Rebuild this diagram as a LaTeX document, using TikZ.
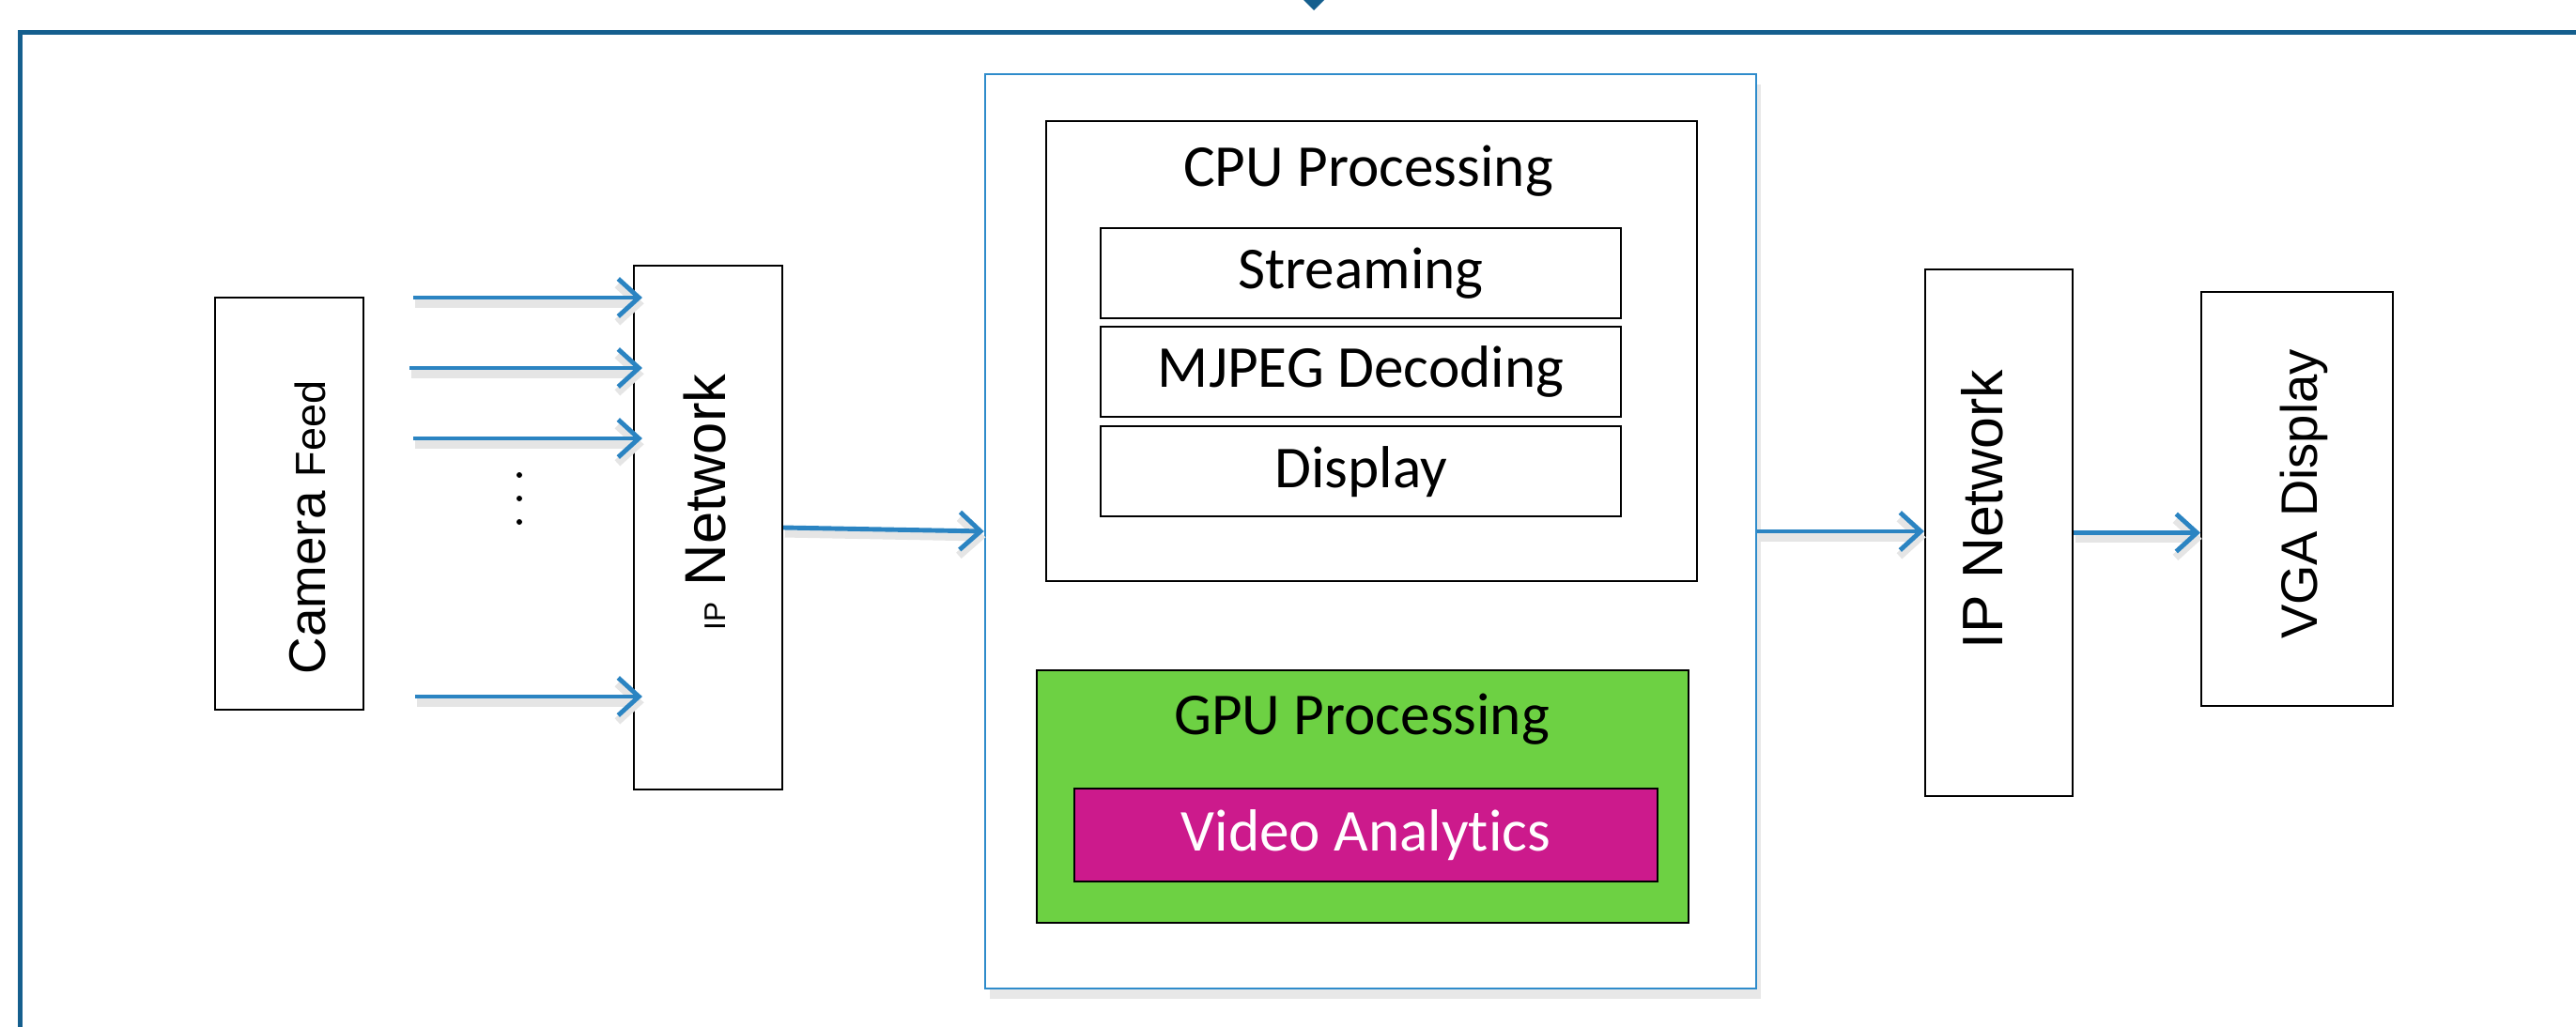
\documentclass[tikz,border=0pt]{standalone}
\usepackage{fontspec}
\setmainfont{Carlito}[Ligatures=NoCommon]
\newfontfamily\arialfont{Liberation Sans}
\usepackage{tikz}
\usetikzlibrary{arrows.meta, positioning, shadows}
\definecolor{frameblue}{HTML}{155F8E}
\definecolor{flowblue}{HTML}{2B84C2}
\definecolor{hostblue}{HTML}{2F8CCB}
\definecolor{gpugreen}{HTML}{6DD143}
\definecolor{vamagenta}{HTML}{CC1A8C}

\begin{document}
\begin{tikzpicture}[
    box/.style={draw, line width=0.6pt, inner sep=0pt},
    side/.style={rotate=90, inner sep=0pt, font=\arialfont},
    big/.style={font=\fontsize{18}{21}\selectfont},
    task/.style={box, big, minimum width=5.54cm, minimum height=0.96cm},
    flow/.style={draw=flowblue, line width=1.4pt, -{Straight Barb[length=2.2mm,width=4mm]},
        preaction={draw=black!10, line width=2.4pt, transform canvas={shift={(0.5pt,-1.8pt)}}}},
  ]
  \useasboundingbox (0,0) rectangle (27.43,10.93);
  \clip (0,0) rectangle (27.43,10.93);

  % frame, only top and left edge are on the page
  \draw[frameblue, line width=1.4pt] (0.215,-1) rectangle (28,10.585);
  \fill[frameblue] (13.88,10.93) -- (13.99,10.82) -- (14.10,10.93) -- cycle;

  % host with cpu and gpu parts
  \node[box, draw=hostblue, line width=0.7pt, fill=white,
    drop shadow={opacity=0.18, shadow xshift=1.5pt, shadow yshift=-3pt},
    minimum width=8.21cm, minimum height=9.74cm] (host) at (14.595,5.27) {};
  \node[box, minimum width=6.93cm, minimum height=4.90cm] (cpu) at (14.605,7.19) {};
  \node[big] (cputxt) at (14.57,9.11) {CPU Processing};
  \node[task] (stream) at (14.49,8.02) {Streaming};
  \node[task, below=0.07cm of stream] (mjpeg) {MJPEG Decoding};
  \node[task, below=0.08cm of mjpeg] (disp) {Display};

  \node[box, fill=gpugreen, minimum width=6.94cm, minimum height=2.69cm] (gpu) at (14.51,2.445) {};
  \node[big] (gputxt) at (14.50,3.27) {GPU Processing};
  \node[box, big, fill=vamagenta, text=white, minimum width=6.21cm, minimum height=0.99cm] (va) at (14.545,2.035) {Video Analytics};

  % side boxes
  \node[box, minimum width=1.58cm, minimum height=4.39cm] (cam) at (3.08,5.565) {};
  \node[side] (camtxt) at (3.275,5.31) {\fontsize{15.6}{18}\selectfont Camera {\fontsize{12.8}{15}\selectfont Feed}};
  \node[box, minimum width=1.58cm, minimum height=5.58cm] (ip1) at (7.54,5.31) {};
  \node[side] (ip1txt) at (7.51,5.58) {\fontsize{17.5}{20}\selectfont{\fontsize{9}{10}\selectfont IP} Network};
  \node[box, minimum width=1.57cm, minimum height=5.61cm] (ip2) at (21.285,5.255) {};
  \node[side] (ip2txt) at (21.11,5.505) {\fontsize{17.3}{20}\selectfont IP Network};
  \node[box, minimum width=2.04cm, minimum height=4.41cm] (vga) at (24.46,5.615) {};
  \node[side] (vgatxt) at (24.535,5.665) {\fontsize{15.5}{18}\selectfont VGA Display};

  % camera streams
  \coordinate (s1) at (4.40,7.76);
  \coordinate (s2) at (4.36,7.01);
  \coordinate (s3) at (4.40,6.26);
  \coordinate (s4) at (4.42,3.51);
  \foreach \s in {s1,s2,s3,s4}
    \draw[flow, shorten >=-1mm] (\s) -- (\s -| ip1.west);
  \foreach \y in {5.87,5.62,5.37}
    \fill (5.53,\y) circle[radius=0.03];

  \draw[flow] (ip1.east) -- (host.west);
  \draw[flow] (host.east) -- (host.east -| ip2.west);
  \draw[flow] (ip2.east) -- (ip2.east -| vga.west);
\end{tikzpicture}
\end{document}
